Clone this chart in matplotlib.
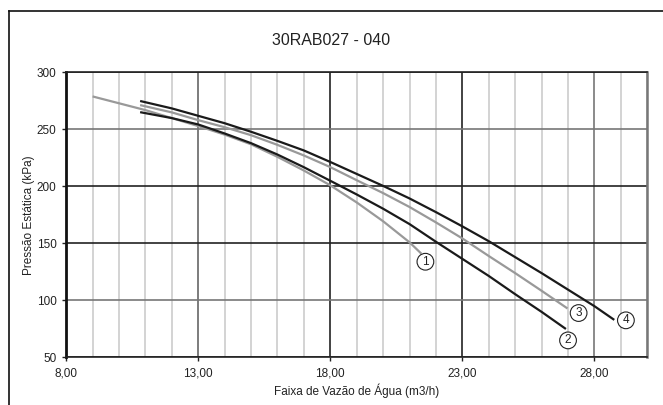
import matplotlib
matplotlib.use('Agg')
import matplotlib.pyplot as plt
from matplotlib.lines import Line2D
from matplotlib.ticker import MultipleLocator, FixedLocator, FuncFormatter

plt.rcParams['font.family'] = ['Liberation Sans', 'DejaVu Sans']

# curve data (flow m3/h, pressure kPa)
q1 = [9.0, 10.0, 11.0, 12.0, 13.0, 14.0, 15.0, 16.0, 17.0, 18.0, 19.0, 20.0, 21.0, 21.45]
p1 = [279, 273, 267, 260, 253, 245.5, 237, 226, 214, 201, 186, 169.5, 151, 141]

q2 = [10.8, 12.0, 13.0, 14.0, 15.0, 16.0, 17.0, 18.0, 19.0, 20.0, 21.0, 22.0, 23.0, 24.0, 25.0, 26.0, 26.92]
p2 = [265.2, 260, 254.4, 246.5, 238, 228, 216.9, 205, 193, 180.5, 167, 151.5, 136.5, 121.5, 105.5, 90, 75]

q3 = [10.8, 12.0, 13.0, 14.0, 15.0, 16.0, 17.0, 18.0, 19.0, 20.0, 21.0, 22.0, 23.0, 24.0, 25.0, 26.0, 26.98]
p3 = [271.4, 265, 258.2, 252, 245, 236.5, 227.2, 217, 205.5, 194.2, 182, 168.5, 154.4, 139, 124, 108.5, 93]

q4 = [10.8, 12.0, 13.0, 14.0, 15.0, 16.0, 17.0, 18.0, 19.0, 20.0, 21.0, 22.0, 23.0, 24.0, 25.0, 26.0, 27.0, 28.0, 28.75]
p4 = [275, 268.5, 262, 255.5, 248, 240, 231.6, 221.5, 211, 200.5, 189.5, 177.5, 165, 152, 138, 124, 109.5, 95, 83]

x_ticks = [8, 13, 18, 23, 28]
y_ticks = [50, 100, 150, 200, 250, 300]

labels = ['1', '2', '3', '4']
label_q = [21.6, 27.0, 27.4, 29.19]
label_p = [134, 65, 89, 82.6]

fig = plt.figure(figsize=(6.63, 4.05), dpi=100)
ax = fig.add_axes([0.0998, 0.1173, 0.8765, 0.7037])

ax.set_xlim(8, 30)
ax.set_ylim(50, 300)
ax.xaxis.set_major_locator(FixedLocator(x_ticks))
ax.xaxis.set_minor_locator(MultipleLocator(1))
ax.yaxis.set_major_locator(FixedLocator(y_ticks))
ax.xaxis.set_major_formatter(FuncFormatter(lambda v, p: ('%.2f' % v).replace('.', ',')))

ax.grid(which='minor', axis='x', color='#cccccc', lw=1.2)
ax.grid(which='major', axis='both', color='#222222', lw=1.2)
ax.set_axisbelow(True)
ax.tick_params(which='minor', length=0)
ax.tick_params(which='major', length=3, width=1, labelsize=8.5, colors='#222222', pad=4)

fig.canvas.draw()
xcol = {13: '#666666', 18: '#222222', 23: '#222222', 28: '#777777'}
for t, gl in zip(ax.get_xticks(), ax.xaxis.get_gridlines()):
    gl.set_color(xcol.get(int(round(t)), '#222222'))
ycol = {100: '#777777', 250: '#777777'}
for t, gl in zip(ax.get_yticks(), ax.yaxis.get_gridlines()):
    gl.set_color(ycol.get(int(round(t)), '#222222'))

for s in ['top', 'bottom']:
    ax.spines[s].set_color('#222222')
    ax.spines[s].set_linewidth(1.2)
ax.spines['left'].set_color('#111111')
ax.spines['left'].set_linewidth(2)
ax.spines['right'].set_color('#777777')
ax.spines['right'].set_linewidth(1.8)

ax.plot(q1, p1, color='#999999', lw=1.6, solid_capstyle='butt')
ax.plot(q2, p2, color='#1a1a1a', lw=1.6, solid_capstyle='butt')
ax.plot(q3, p3, color='#999999', lw=1.6, solid_capstyle='butt')
ax.plot(q4, p4, color='#1a1a1a', lw=1.6, solid_capstyle='butt')

for lab, x, y in zip(labels, label_q, label_p):
    ax.text(x, y, lab, ha='center', va='center', fontsize=8.5, color='#222222',
            bbox=dict(boxstyle='circle,pad=0.2', fc='white', ec='#222222', lw=0.8))

ax.set_xlabel('Faixa de Vazão de Água (m3/h)', fontsize=8.5, color='#222222', labelpad=3)
ax.set_ylabel('Pressão Estática (kPa)', fontsize=8.5, color='#222222', labelpad=1)
fig.text(0.5, 0.9, '30RAB027 - 040', ha='center', va='center', fontsize=11.5, color='#222222')

# outer frame (only left and top edges visible in the reference)
fx = 8.5 / 663
fy = 1 - 11 / 405
fig.add_artist(Line2D([fx, fx], [0, fy], transform=fig.transFigure, color='#111111', lw=1.2))
fig.add_artist(Line2D([fx, 1], [fy, fy], transform=fig.transFigure, color='#111111', lw=1.2))

fig.savefig('out.png', dpi=100, facecolor='white')
